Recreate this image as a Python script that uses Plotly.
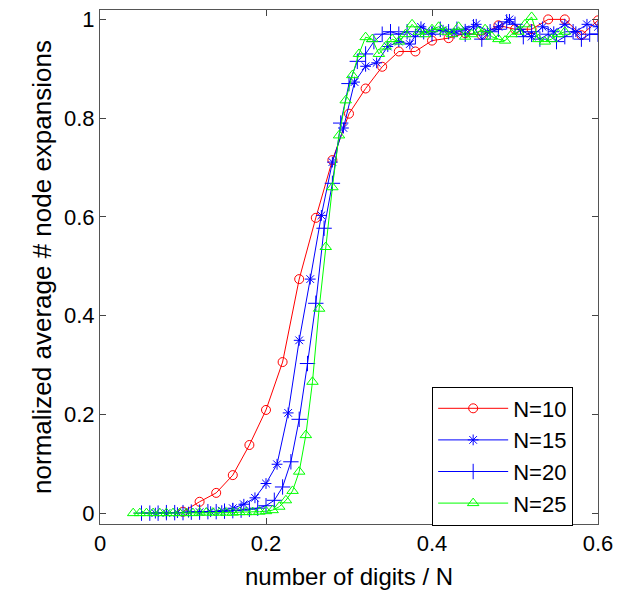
import numpy as np
import plotly.graph_objects as go

# x positions: number of digits / N
x_n10 = np.round(np.arange(5, 31) * 0.2 / 10, 4).tolist()
x_n15 = np.round(np.arange(5, 46) * 0.2 / 15, 4).tolist()
x_n20 = np.round(np.arange(5, 61) * 0.2 / 20, 4).tolist()
x_n25 = np.round(np.arange(5, 71) * 0.2 / 25, 4).tolist()

y_n10 = [0.003, 0.023, 0.041, 0.077, 0.138, 0.209, 0.306, 0.474, 0.598, 0.715,
         0.809, 0.860, 0.904, 0.935, 0.935, 0.957, 0.962, 0.972, 0.968, 0.988,
         0.980, 0.980, 1.000, 1.000, 0.968, 0.998]

y_n15 = [0.0, 0.0, 0.001, 0.002, 0.002, 0.003, 0.005, 0.010, 0.018, 0.031,
         0.060, 0.099, 0.203, 0.350, 0.474, 0.603, 0.711, 0.780, 0.873, 0.905,
         0.912, 0.945, 0.955, 0.950, 0.985, 0.975, 0.978, 0.972, 0.980, 0.990,
         0.975, 0.985, 1.000, 0.980, 0.965, 0.985, 0.975, 0.990, 0.975, 0.990,
         0.985]

y_n20 = [0.0, 0.0, 0.0, 0.001, 0.001, 0.001, 0.002, 0.002, 0.003, 0.003,
         0.004, 0.005, 0.006, 0.008, 0.010, 0.015, 0.026, 0.053, 0.104, 0.190,
         0.303, 0.425, 0.577, 0.668, 0.790, 0.870, 0.915, 0.930, 0.955, 0.970,
         0.975, 0.970, 0.975, 0.965, 0.975, 0.970, 0.980, 0.975, 0.980, 0.970,
         0.985, 0.960, 0.975, 0.980, 0.995, 0.990, 0.965, 0.975, 0.960, 0.970,
         0.955, 0.965, 0.975, 0.960, 0.970, 0.970]

y_n25 = [0.0, 0.0, 0.0, 0.0, 0.0, 0.0, 0.0, 0.0, 0.0, 0.0,
         0.001, 0.001, 0.001, 0.001, 0.001, 0.001, 0.002, 0.002, 0.002, 0.003,
         0.004, 0.006, 0.013, 0.026, 0.045, 0.084, 0.158, 0.266, 0.414, 0.539,
         0.660, 0.765, 0.836, 0.887, 0.930, 0.964, 0.960, 0.930, 0.945, 0.960,
         0.955, 0.970, 0.990, 0.975, 0.970, 0.980, 0.985, 0.975, 0.970, 0.985,
         0.965, 0.970, 0.975, 0.980, 0.965, 0.960, 0.957, 0.970, 0.975, 0.990,
         1.005, 0.960, 0.955, 0.960, 0.970, 0.975]

x_ticks = [0, 0.2, 0.4, 0.6]
x_tick_labels = ["0", "0.2", "0.4", "0.6"]
y_ticks = [0, 0.2, 0.4, 0.6, 0.8, 1]
y_tick_labels = ["0", "0.2", "0.4", "0.6", "0.8", "1"]
x_title = "number of digits / N"
y_title = "normalized average # node expansions"

series = [
    ("N=10", x_n10, y_n10, "#ff0000", "circle-open", 9),
    ("N=15", x_n15, y_n15, "#0000ff", "asterisk-open", 9),
    ("N=20", x_n20, y_n20, "#0000ff", "cross-thin-open", 11),
    ("N=25", x_n25, y_n25, "#00ff00", "triangle-up-open", 10),
]

fig = go.Figure()
for name, xs, ys, col, sym, sz in series:
    fig.add_trace(go.Scatter(
        x=xs, y=ys, mode="lines+markers", name=name,
        line=dict(color=col, width=1),
        marker=dict(symbol=sym, size=sz, color=col, line=dict(color=col, width=1)),
    ))

font_family = "Arial, Liberation Sans, sans-serif"
fig.update_layout(
    width=617, height=590,
    margin=dict(l=100, r=19, t=10, b=66),
    plot_bgcolor="white", paper_bgcolor="white",
    font=dict(family=font_family, size=22, color="black"),
    showlegend=True,
    legend=dict(
        x=0.667, y=0.2675, xanchor="left", yanchor="top",
        bordercolor="black", borderwidth=1, bgcolor="white",
        font=dict(size=22, family=font_family),
        tracegroupgap=0, itemwidth=70,
    ),
    xaxis=dict(
        range=[0, 0.6], tickvals=x_ticks, ticktext=x_tick_labels,
        ticks="inside", ticklen=6, tickcolor="#444",
        tickfont=dict(size=22), automargin=False,
        showline=True, linecolor="#555", linewidth=1, mirror="ticks",
        showgrid=False, zeroline=False,
    ),
    yaxis=dict(
        range=[-0.022, 1.019], tickvals=y_ticks, ticktext=y_tick_labels,
        ticks="inside", ticklen=6, tickcolor="#444",
        tickfont=dict(size=22), automargin=False,
        showline=True, linecolor="#555", linewidth=1, mirror="ticks",
        showgrid=False, zeroline=False,
        title=dict(text=y_title, font=dict(size=26), standoff=4),
    ),
    annotations=[dict(
        text=x_title, xref="paper", yref="paper", x=0.5, y=-0.103,
        xanchor="center", yanchor="middle", showarrow=False,
        font=dict(size=24, family=font_family),
    )],
)

fig.write_html("out.html", config={"displayModeBar": False},
               post_script="document.body.style.margin='0';document.body.style.overflow='hidden';")
